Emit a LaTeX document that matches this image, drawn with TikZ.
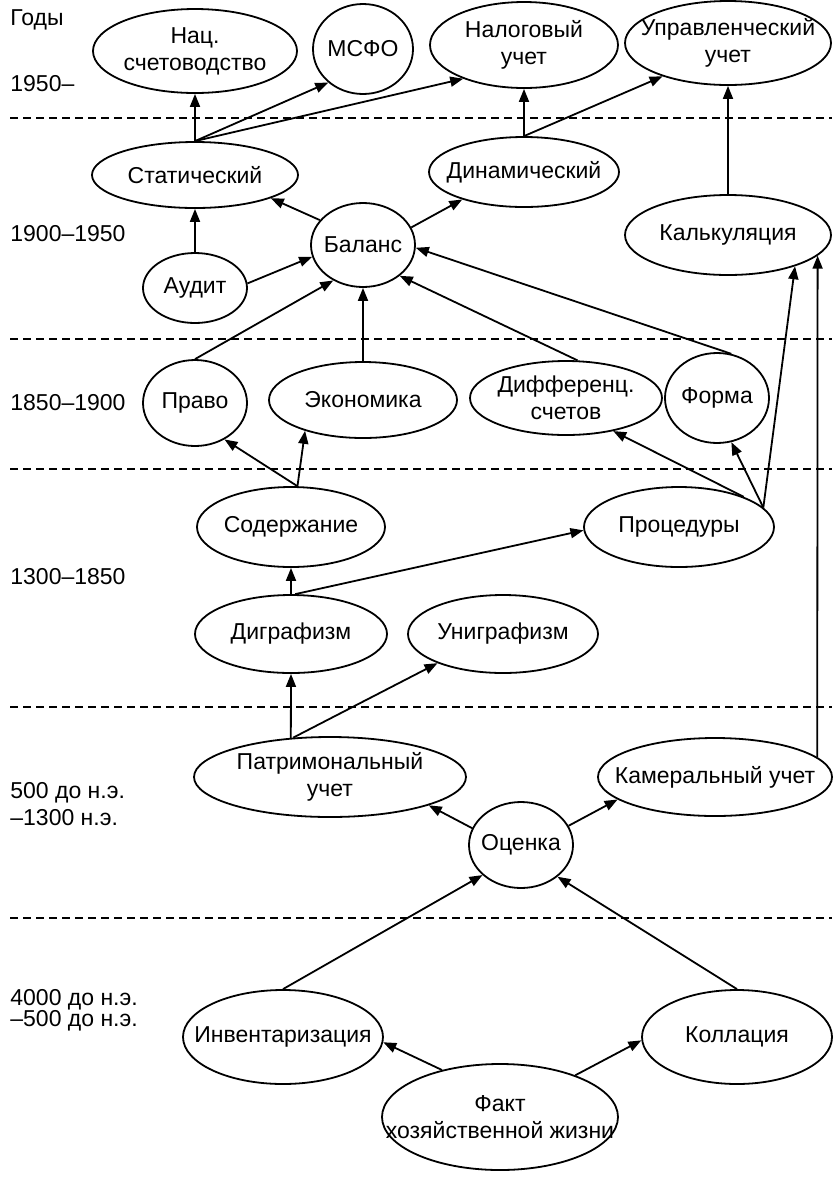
\documentclass[tikz,border=0pt]{standalone}
\usepackage{fontspec}
\setmainfont{Liberation Sans}
\usetikzlibrary{shapes.geometric,arrows.meta}

\tikzset{
  oval/.style n args={3}{ellipse, draw, line width=0.9pt, inner sep=0pt,
    minimum width=#1pt, minimum height=#2pt,
    label={[align=center]center:#3}},
  link/.style={line width=0.9pt, -{Triangle[length=6.5pt,width=5pt]}},
  era/.style={line width=0.8pt, dash pattern=on 4pt off 2.5pt},
  year/.style={anchor=west, inner sep=0pt, align=left}
}

\begin{document}
\begin{tikzpicture}[x=0.5pt, y=-0.5pt, font=\fontsize{11.5}{13.5}\selectfont]
  \useasboundingbox (0,0) rectangle (832,1201);
  % period borders
  \foreach \y in {118,339,469,707,918}
    \draw[era] (10,\y) -- (832,\y);
  % years
  \node[year] (y0) at (10,20) {Годы};
  \node[year] (y1) at (10,84) {1950–};
  \node[year] (y2) at (10,234) {1900–1950};
  \node[year] (y3) at (10,403) {1850–1900};
  \node[year] (y4) at (10,577) {1300–1850};
  \node[year] (y5) at (10,804) {500 до н.э.\\–1300 н.э.};
  \node[year, font=\fontsize{11.5}{10.5}\selectfont] (y6) at (10,1010)
        {4000 до н.э.\\–500 до н.э.};
  % 1950-
  \node[oval={102}{42}{Нац.\\счетоводство}] (nac) at (195,51) {};
  \node[oval={50}{45}{МСФО}] (msfo) at (363,49) {};
  \node[oval={94}{43}{Налоговый\\учет}] (nalog) at (524,45) {};
  \node[oval={103}{42}{Управленческий\\учет}] (upr) at (728,43) {};
  % 1900-1950
  \node[oval={103}{33}{Статический}] (stat) at (195,175) {};
  \node[oval={95}{35}{Динамический}] (dinam) at (524,172) {};
  \node[oval={52}{42}{Баланс}] (balans) at (363,245) {};
  \node[oval={52}{35}{Аудит}] (audit) at (195,288) {};
  \node[oval={103}{40}{Калькуляция}] (kalk) at (728,235) {};
  % 1850-1900
  \node[oval={52}{43}{Право}] (pravo) at (195,403) {};
  \node[oval={94}{38}{Экономика}] (econ) at (363,400) {};
  \node[oval={96}{37}{Дифференц.\\счетов}] (diff) at (566,398) {};
  \node[oval={52}{45}{Форма}] (forma) at (717,398) {};
  % 1300-1850
  \node[oval={94}{40}{Содержание}] (sod) at (291,527) {};
  \node[oval={95}{40}{Процедуры}] (proc) at (679,527) {};
  \node[oval={96}{39}{Диграфизм}] (digr) at (291,634) {};
  \node[oval={95}{39}{Униграфизм}] (unigr) at (503,634) {};
  % 500 - 1300
  \node[oval={136}{40}{Патримональный\\учет}] (patr) at (330,777) {};
  \node[oval={117}{39}{Камеральный учет}] (kamer) at (715,777) {};
  \node[oval={52}{43}{Оценка}] (ocenka) at (521,845) {};
  % 4000 - 500
  \node[oval={100}{47}{Инвентаризация}] (inv) at (283,1037) {};
  \node[oval={95}{47}{Коллация}] (koll) at (737,1037) {};
  \node[oval={118}{53}{Факт\\хозяйственной жизни}] (fakt) at (500,1117) {};
  % arrows
  \draw[link] (stat.north) -- (nac.south);
  \draw[link] (stat.north) -- (msfo.224);
  \draw[link] (stat.north) -- (nalog.209);
  \draw[link] (dinam.north) -- (nalog.south);
  \draw[link] (dinam.north) -- (upr.207);
  \draw[link] (kalk.north) -- (upr.south);
  \draw[link] (balans.150) -- (stat.343);
  \draw[link] (balans.20) -- (dinam.204);
  \draw[link] (audit.north) -- (stat.south);
  \draw[link] (audit.5) -- (balans.193);
  \draw[link] (pravo.north) -- (balans.230);
  \draw[link] (econ.north) -- (balans.south);
  \draw[link] (diff.73) -- (balans.320);
  \draw[link] (forma.72) -- (balans.357);
  \draw[link] (sod.81) -- (pravo.309);
  \draw[link] (sod.81) -- (econ.208);
  \draw[link] (digr.north) -- (sod.south);
  \draw[link] (digr.84) -- (proc.182);
  \draw[link] (proc.25) -- (diff.325);
  \draw[link] (proc.13) -- (forma.288);
  \draw[link] (proc.13) -- (kalk.335);
  \draw[link] (kamer.11) -- (kalk.347);
  \draw[link] (patr.135) -- (digr.south);
  \draw[link] (patr.133) -- (unigr.204);
  \draw[link] (ocenka.161) -- (patr.344);
  \draw[link] (ocenka.22) -- (kamer.193);
  \draw[link] (inv.north) -- (ocenka.218);
  \draw[link] (koll.north) -- (ocenka.319);
  \draw[link] (fakt.141) -- (inv.357);
  \draw[link] (fakt.29) -- (koll.182);
\end{tikzpicture}
\end{document}
